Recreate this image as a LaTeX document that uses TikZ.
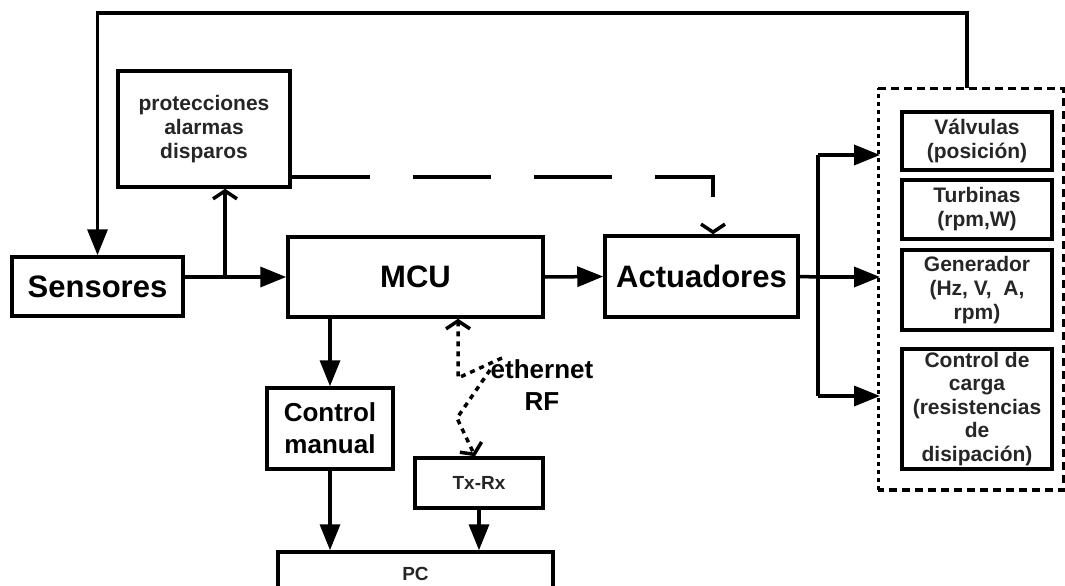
\documentclass[tikz,border=0pt]{standalone}
\usepackage{fontspec}
\setmainfont{Liberation Sans}
\usetikzlibrary{arrows.meta}

\begin{document}
\begin{tikzpicture}[x=1pt, y=-1pt, line width=3.5pt,
    bloque/.style={draw, rectangle, inner sep=1pt, align=center},
    grande/.style={bloque, font=\fontsize{31}{34}\selectfont\bfseries},
    medio/.style={bloque, font=\fontsize{26}{32}\selectfont\bfseries},
    chico/.style={bloque, font=\fontsize{21}{24}\selectfont\bfseries, text=black!85},
    mini/.style={bloque, font=\fontsize{19}{22}\selectfont\bfseries, text=black!85},
    flecha/.style={-{Triangle[length=26pt,width=20pt]}},
    abierta/.style={-{Straight Barb[length=8pt,width=24pt]}},
    largo/.style={dash pattern=on 78pt off 43pt},
    punteado/.style={dash pattern=on 5pt off 5pt}]
            \useasboundingbox (0,0) rectangle (1065,586);

            % Bloques
            \node[grande, minimum width=171pt, minimum height=59pt] (sens) at (97.5,286.5) {Sensores};
            \node[chico, minimum width=172pt, minimum height=116pt] (prot) at (204,129) {protecciones\\alarmas\\disparos};
            \node[grande, minimum width=255pt, minimum height=80pt] (mcu) at (415.5,277) {MCU};
            \node[grande, minimum width=193pt, minimum height=81pt] (act) at (701.5,276.5) {Actuadores};
            \node[medio, minimum width=126pt, minimum height=81pt] (cman) at (330,428.5) {Control\\manual};
            \node[mini, minimum width=128pt, minimum height=50pt] (txrx) at (479,483) {Tx-Rx};
            \node[mini, minimum width=275pt, minimum height=44pt] (pc) at (415.5,574) {PC};
            \node[medio, draw=none] (red) at (542,385) {ethernet\\RF};

            % Grupo de la planta
            \node[minimum width=182pt, minimum height=398pt, inner sep=0pt] (grupo) at (971,289) {};
            \draw[dash pattern=on 8pt off 5pt] (grupo.north west) -- (grupo.north east) -- (grupo.south east) -- (grupo.south west);
            \draw[dash pattern=on 4pt off 4pt] (grupo.south west) -- (grupo.north west);
            \node[chico, minimum width=150pt, minimum height=58pt] (valv) at (977,141) {Válvulas\\(posición)};
            \node[chico, minimum width=150pt, minimum height=59pt] (turb) at (977,209.5) {Turbinas\\(rpm,W)};
            \node[chico, minimum width=150pt, minimum height=80pt] (gen) at (977,290) {Generador\\(Hz, V,\ \ A,\\rpm)};
            \node[chico, minimum width=150pt, minimum height=120pt, font=\fontsize{21}{23.5}\selectfont\bfseries] (carga) at (977,409) {Control de\\carga\\(resistencias\\de\\disipación)};

            % Puntos auxiliares
            \coordinate (arriba) at (967,13);
            \coordinate (rama) at (225,277);
            \coordinate (bus) at (818,277);
            \coordinate (e1) at (880,155);
            \coordinate (e2) at (880,277);
            \coordinate (e3) at (880,396);
            \coordinate (w1) at (458,378);
            \coordinate (w2) at (502,358);
            \coordinate (w3) at (490,370);
            \coordinate (w4) at (457,418);

            % Conexiones
            \draw[flecha] (grupo.north -| arriba) -- (arriba) -| (sens.north);
            \draw[flecha] (sens.east |- mcu.west) -- (mcu.west);
            \draw[abierta] (rama) -- (rama |- prot.south);
            \draw[largo, abierta] ([yshift=-48pt]prot.east) -| ([xshift=11.5pt]act.north);
            \draw[flecha] (mcu.east) -- (act.west);
            \draw (act.east) -- (bus);
            \draw (bus |- e1) -- (bus |- e3);
            \draw[flecha] (bus |- e1) -- (e1);
            \draw[flecha] (bus) -- (e2);
            \draw[flecha] (bus |- e3) -- (e3);
            \draw[flecha] (mcu.south -| cman) -- (cman.north);
            \draw[flecha] (cman.south) -- (cman.south |- pc.north);
            \draw[flecha] (txrx.south) -- (txrx.south |- pc.north);
            \draw[punteado, abierta] (w2) -- (w1) -- (mcu.south -| w1);
            \draw[punteado, abierta] (w3) -- (w4) -- ([xshift=-4pt]txrx.north);
          \end{tikzpicture}
\end{document}
